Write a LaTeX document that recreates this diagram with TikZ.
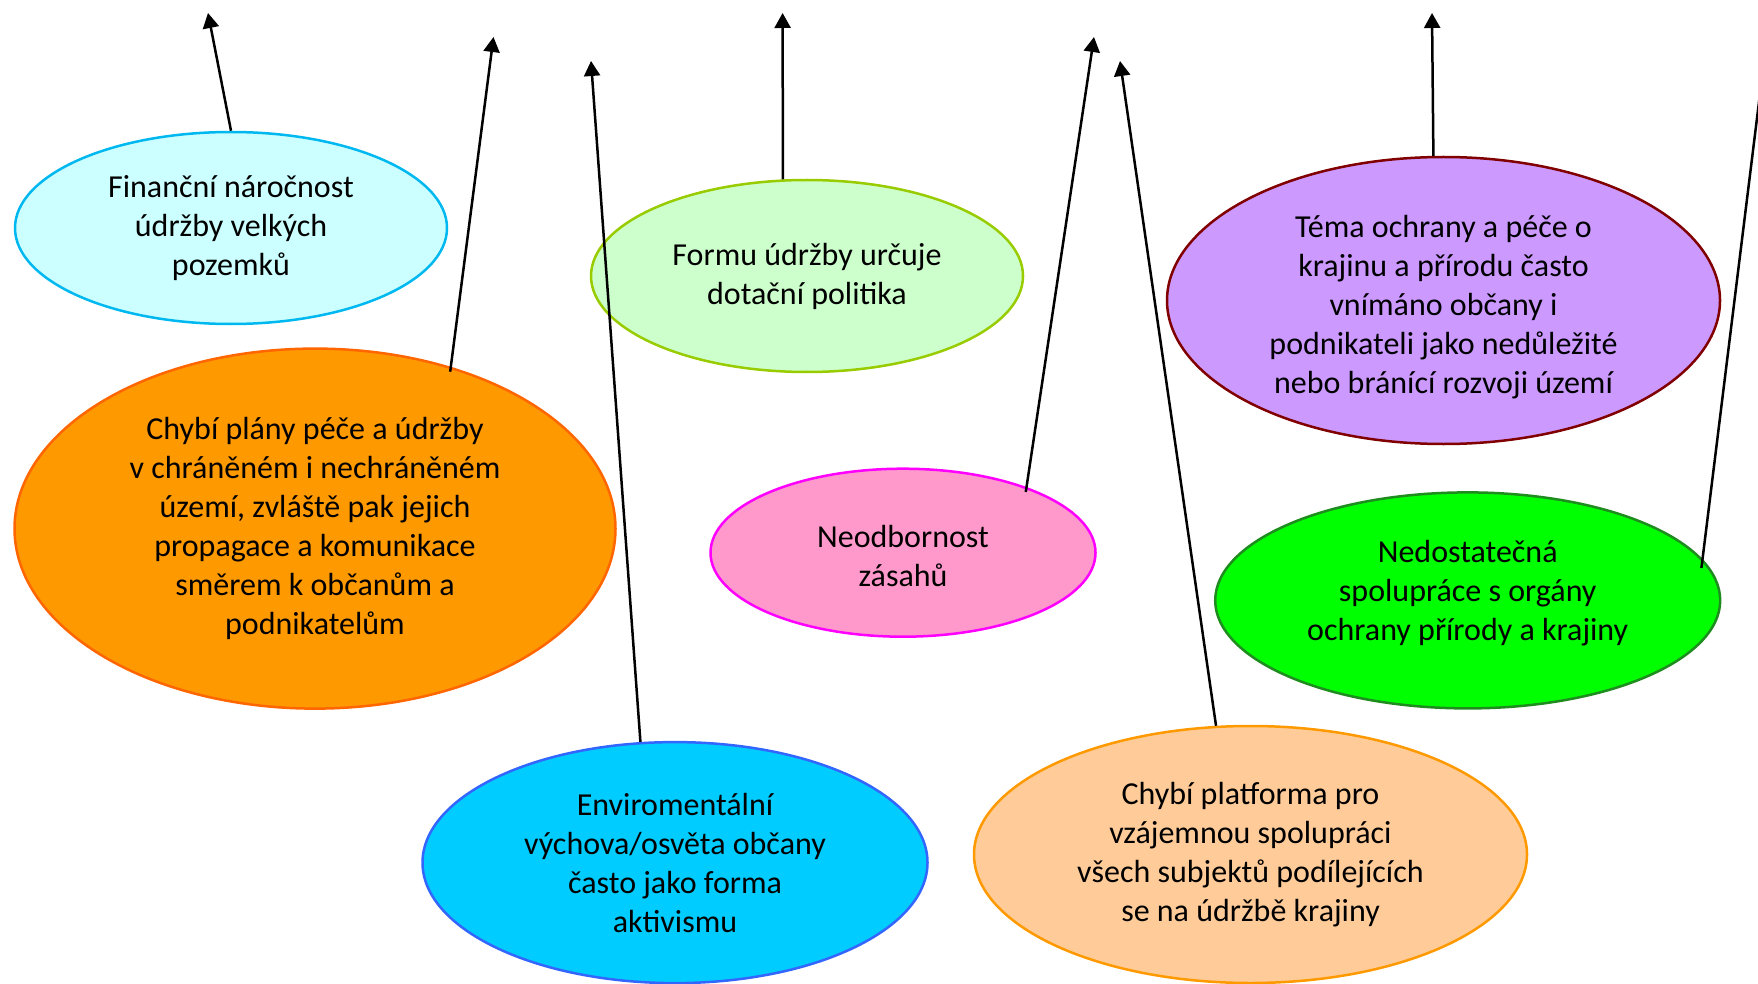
\documentclass[tikz,border=0pt]{standalone}
\usepackage{fontspec}
\setmainfont{Carlito}
\usetikzlibrary{shapes.geometric,arrows.meta}
\definecolor{f1}{HTML}{CCFFFF}\definecolor{d1}{HTML}{00B8F0}
\definecolor{f2}{HTML}{CCFFCC}\definecolor{d2}{HTML}{99CC00}
\definecolor{f3}{HTML}{CC99FF}\definecolor{d3}{HTML}{800000}
\definecolor{f4}{HTML}{FF9900}\definecolor{d4}{HTML}{FF6600}
\definecolor{f5}{HTML}{FF99CC}\definecolor{d5}{HTML}{FF00FF}
\definecolor{f6}{HTML}{00FF00}\definecolor{d6}{HTML}{1E8C1E}
\definecolor{f7}{HTML}{00CCFF}\definecolor{d7}{HTML}{3366FF}
\definecolor{f8}{HTML}{FFCC99}\definecolor{d8}{HTML}{FF9900}
\begin{document}
\begin{tikzpicture}[x=1pt,y=-1pt,
  txt/.style={align=center,inner sep=0pt,font=\fontsize{32}{39}\selectfont},
  bub/.style={ellipse,inner sep=0pt,line width=2.5pt,txt},
  arr/.style={line width=2.5pt,-{Triangle[length=15pt,width=16pt]}}]
\useasboundingbox (0,0) rectangle (1758,984);
\node[bub,fill=f1,draw=d1,minimum width=432pt,minimum height=192pt] (e1) at (231,228)
  {Finanční náročnost\\údržby velkých\\pozemků};
\node[bub,fill=f2,draw=d2,minimum width=432pt,minimum height=192pt] (e2) at (807,276)
  {Formu údržby určuje\\dotační politika};
\node[bub,fill=f3,draw=d3,minimum width=553pt,minimum height=287pt,
  label={[txt,yshift=-7pt]center:{Téma ochrany a péče o\\krajinu a přírodu často\\vnímáno občany i\\podnikateli jako nedůležité\\nebo bránící rozvoji území}}] (e3) at (1443.5,300.5) {};
\node[bub,fill=f4,draw=d4,minimum width=601pt,minimum height=360pt] (e4) at (315,528.6)
  {Chybí plány péče a údržby\\v chráněném i nechráněném\\území, zvláště pak jejich\\propagace a komunikace\\směrem k občanům a\\podnikatelům};
\node[bub,fill=f5,draw=d5,minimum width=385pt,minimum height=168pt,
  label={[txt,yshift=-3pt]center:{Neodbornost\\zásahů}}] (e5) at (903,552.7) {};
\node[bub,fill=f6,draw=d6,minimum width=505pt,minimum height=216pt,
  label={[txt,yshift=7pt]center:{Nedostatečná\\spolupráce s orgány\\ochrany přírody a krajiny}}] (e6) at (1467.7,600.4) {};
\node[bub,fill=f7,draw=d7,minimum width=505pt,minimum height=241pt] (e7) at (675,862.6)
  {Enviromentální\\výchova/osvěta občany\\často jako forma\\aktivismu};
\node[bub,fill=f8,draw=d8,minimum width=553pt,minimum height=257pt] (e8) at (1250.5,854.5)
  {Chybí platforma pro\\vzájemnou spolupráci\\všech subjektů podílejících\\se na údržbě krajiny};
\coordinate (t1) at (208,13);
\coordinate (t2) at (493.5,37);
\coordinate (t3) at (591,61);
\coordinate (t4) at (782.6,13);
\coordinate (t5) at (1094,37);
\coordinate (t6) at (1120,61);
\coordinate (t7) at (1432,13);
\coordinate (t8) at (1779,-60);
\draw[arr] (e1.north) -- (t1);
\draw[arr,shorten <=-5pt] (e4.50.5) -- (t2);
\draw[arr] (e7.106.8) -- (t3);
\draw[arr] (e2.104.3) -- (t4);
\draw[arr,shorten <=-5pt] (e5.28.2) -- (t5);
\draw[arr] (e8.105.1) -- (t6);
\draw[arr] (e3.94.5) -- (t7);
\draw[arr,shorten <=-9pt] (e6.10.9) -- (t8);
\end{tikzpicture}
\end{document}
